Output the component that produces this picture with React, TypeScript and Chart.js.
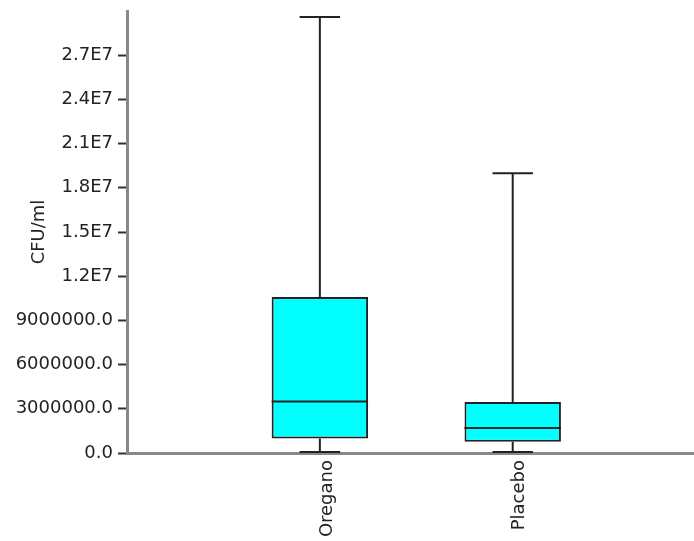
import { useEffect, useRef } from 'react';
import { Chart, registerables } from 'chart.js';

Chart.register(...registerables);

// ---- data ----
const categories = ['Oregano', 'Placebo'];
const whiskerLow = [60000, 60000];
const q1 = [980000, 770000];
const median = [3490000, 1700000];
const q3 = [10580000, 3460000];
const whiskerHigh = [29600000, 18980000];

const yTickValues = [0, 3000000, 6000000, 9000000, 12000000, 15000000, 18000000, 21000000, 24000000, 27000000];
const yTickLabels = ['0.0', '3000000.0', '6000000.0', '9000000.0', '1.2E7', '1.5E7', '1.8E7', '2.1E7', '2.4E7', '2.7E7'];

const FONT = 'DejaVu Sans';
const TEXT = '#222';
const LINE = '#222';

const boxPlugin = {
  id: 'boxWhiskers',
  afterDatasetsDraw(chart: any) {
    const meta = chart.getDatasetMeta(0);
    const xs = chart.scales.x;
    const ys = chart.scales.y;
    const ctx = chart.ctx;
    ctx.save();
    ctx.strokeStyle = LINE;
    ctx.lineWidth = 2;
    categories.forEach((_, i) => {
      const bar = meta.data[i];
      if (!bar) return;
      const x = xs.getPixelForValue(i);
      const half = bar.width / 2;
      const capHalf = half * 0.42;
      const yLow = ys.getPixelForValue(whiskerLow[i]);
      const yQ1 = ys.getPixelForValue(q1[i]);
      const yMed = ys.getPixelForValue(median[i]);
      const yQ3 = ys.getPixelForValue(q3[i]);
      const yHigh = ys.getPixelForValue(whiskerHigh[i]);
      ctx.beginPath();
      // upper whisker
      ctx.moveTo(x, yQ3);
      ctx.lineTo(x, yHigh);
      ctx.moveTo(x - capHalf, yHigh);
      ctx.lineTo(x + capHalf, yHigh);
      // lower whisker
      ctx.moveTo(x, yQ1);
      ctx.lineTo(x, yLow);
      ctx.moveTo(x - capHalf, yLow);
      ctx.lineTo(x + capHalf, yLow);
      // median
      ctx.moveTo(x - half, yMed);
      ctx.lineTo(x + half, yMed);
      ctx.stroke();
    });
    ctx.restore();
  },
};

export default function App() {
  const ref = useRef<HTMLCanvasElement | null>(null);

  useEffect(() => {
    if (!ref.current) return;
    const chart = new Chart(ref.current, {
      type: 'bar',
      data: {
        datasets: [
          {
            data: categories.map((_, i) => ({ x: i, y: [q1[i], q3[i]] })) as any,
            backgroundColor: '#00FFFF',
            borderColor: LINE,
            borderWidth: 2,
            borderSkipped: false,
            barPercentage: 0.5,
            categoryPercentage: 1,
          },
        ],
      },
      options: {
        animation: false,
        responsive: false,
        layout: { padding: { top: 11, left: 0, right: 0, bottom: 0 } },
        plugins: { legend: { display: false }, tooltip: { enabled: false } },
        scales: {
          x: {
            type: 'linear',
            offset: false,
            min: -1,
            max: 1.94,
            afterBuildTicks: (scale: any) => {
              scale.ticks = categories.map((_, i) => ({ value: i }));
            },
            afterFit: (scale: any) => {
              scale.height = 88;
              scale.paddingLeft = 0;
              scale.paddingRight = 0;
            },
            grid: { display: false, drawTicks: false, drawOnChartArea: false, offset: false },
            border: { display: true, color: '#888', width: 3 },
            ticks: {
              autoSkip: false,
              minRotation: 90,
              maxRotation: 90,
              padding: 7,
              labelOffset: 7,
              color: TEXT,
              font: { family: FONT, size: 18 },
              callback: (v: any) => categories[Math.round(Number(v))] ?? '',
            },
          },
          y: {
            type: 'linear',
            min: 0,
            max: 30000000,
            afterBuildTicks: (scale: any) => {
              scale.ticks = yTickValues.map((v) => ({ value: v }));
            },
            afterFit: (scale: any) => {
              scale.width = 127;
              scale.paddingTop = 0;
              scale.paddingBottom = 0;
            },
            grid: {
              display: true,
              drawOnChartArea: false,
              drawTicks: true,
              tickLength: 9,
              tickWidth: 2,
              tickColor: '#333',
            },
            border: { display: true, color: '#888', width: 3 },
            title: {
              display: true,
              text: 'CFU/ml',
              color: TEXT,
              font: { family: FONT, size: 18 },
              padding: { top: 29, bottom: 0 },
            },
            ticks: {
              padding: 5,
              color: TEXT,
              font: { family: FONT, size: 18 },
              callback: (v: any) => {
                const idx = yTickValues.indexOf(Number(v));
                return idx >= 0 ? yTickLabels[idx] : '';
              },
            },
          },
        },
      },
      plugins: [boxPlugin],
    });
    return () => chart.destroy();
  }, []);

  return (
    <div style={{ position: 'absolute', left: 0, top: 0, width: 694, height: 541 }}>
      <canvas ref={ref} width={694} height={541} style={{ display: 'block' }} />
    </div>
  );
}
